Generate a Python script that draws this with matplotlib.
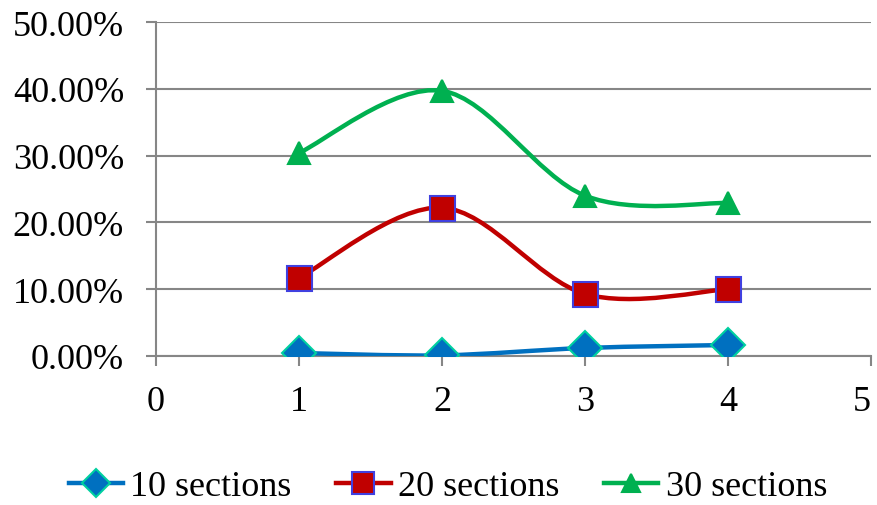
import numpy as np
import matplotlib.pyplot as plt
from matplotlib.path import Path
from matplotlib.patches import PathPatch
from matplotlib.lines import Line2D

plt.rcParams['font.family'] = ['Liberation Serif', 'DejaVu Serif']

x = [1, 2, 3, 4]
s10 = [0.45, 0.1, 1.2, 1.65]
s20 = [11.7, 22.2, 9.3, 10.0]
s30 = [30.4, 39.7, 24.0, 22.9]
labels = ['10 sections', '20 sections', '30 sections']
yticks = [0, 10, 20, 30, 40, 50]
xticks = [0, 1, 2, 3, 4, 5]


def smooth_path(xs, ys):
    # excel style smoothed line: cubic bezier through the points
    px = np.array(xs, float)
    py = np.array(ys, float)
    n = len(px)
    verts = [(px[0], py[0])]
    codes = [Path.MOVETO]
    for i in range(n - 1):
        i0 = max(i - 1, 0)
        i3 = min(i + 2, n - 1)
        c1 = (px[i] + (px[i + 1] - px[i0]) / 6, py[i] + (py[i + 1] - py[i0]) / 6)
        c2 = (px[i + 1] - (px[i3] - px[i]) / 6, py[i + 1] - (py[i3] - py[i]) / 6)
        verts += [c1, c2, (px[i + 1], py[i + 1])]
        codes += [Path.CURVE4] * 3
    return Path(verts, codes)


fig = plt.figure(figsize=(8.78, 5.06), dpi=100)
ax = fig.add_axes([156 / 878, 149 / 506, 715 / 878, 334 / 506])

series = [
    (s10, '#0070c0', 'D', 17, '#00d0a0', '#0070c0'),
    (s20, '#c00000', 's', 18, '#4040e0', '#c00000'),
    (s30, '#00b050', '^', 16, '#00b050', '#00b050'),
]
handles = []
for ys, col, mk, ms, ec, fc in series:
    ax.add_patch(PathPatch(smooth_path(x, ys), fill=False, edgecolor=col,
                           lw=3.2, capstyle='round', zorder=3))
    ax.plot(x, ys, ls='none', marker=mk, ms=ms, mfc=fc, mec=ec, mew=1.5, zorder=4)
    handles.append(Line2D([], [], color=col, lw=3.2, marker=mk, ms=ms * 0.85,
                          mfc=fc, mec=ec, mew=1.5))

ax.set_xlim(0, 5)
ax.set_ylim(0, 50)
ax.set_xticks(xticks)
ax.set_yticks(yticks)
ax.set_yticklabels(['%.2f%%' % v for v in yticks])
ax.grid(axis='y', color='#868686', lw=1.5)
ax.set_axisbelow(True)
for sp in ['top', 'right']:
    ax.spines[sp].set_visible(False)
for sp in ['left', 'bottom']:
    ax.spines[sp].set_color('#868686')
    ax.spines[sp].set_linewidth(1.5)
ax.tick_params(axis='both', colors='#868686', labelcolor='black', labelsize=26,
               length=7, width=1.5)
ax.tick_params(axis='y', pad=16)
ax.tick_params(axis='x', pad=14)
for t in ax.get_xticklabels() + ax.get_yticklabels():
    t.set_color('black')
# last label pushed inside the figure edge, as in the original
ax.get_xticklabels()[-1].set_horizontalalignment('right')

fig.legend(handles, labels, loc='center', bbox_to_anchor=(0.51, 0.036), ncol=3,
           frameon=False, fontsize=26, handlelength=1.5, handletextpad=0.2,
           columnspacing=1.25, borderpad=0)

fig.savefig('out.png', dpi=100)
